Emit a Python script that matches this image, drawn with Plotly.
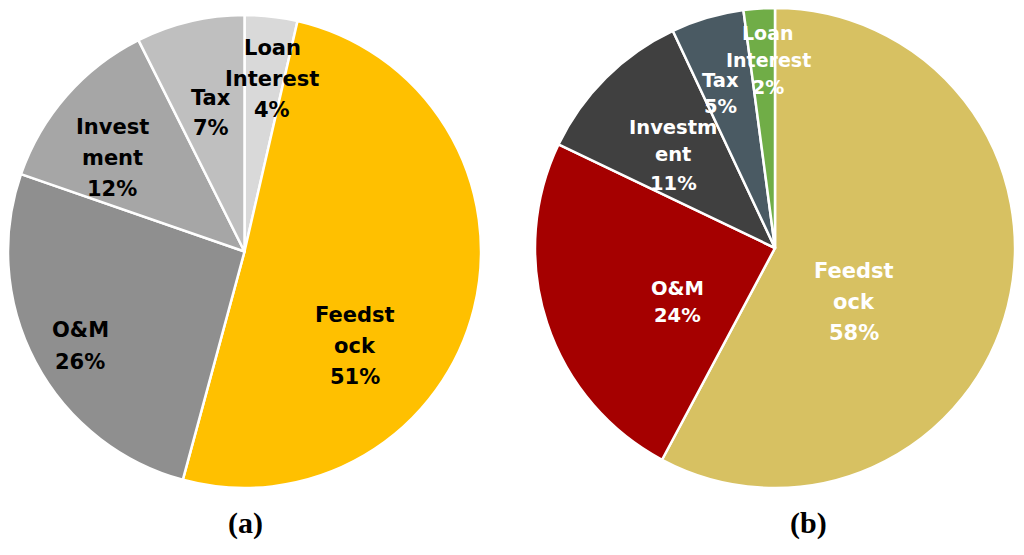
import plotly.graph_objects as go

W, H = 1024, 555
OFF = 8  # page body margin offset in the browser

# ---- data ----
labels_a = ["Loan Interest", "Feedstock", "O&M", "Investment", "Tax"]
values_a = [3.6, 50.6, 26.1, 12.3, 7.4]
colors_a = ["#D9D9D9", "#FFC000", "#8F8F8F", "#A6A6A6", "#BFBFBF"]
text_a = [["Loan", "Interest"], ["Feedst", "ock"], ["O&M"], ["Invest", "ment"], ["Tax"]]

labels_b = ["Feedstock", "O&M", "Investment", "Tax", "Loan Interest"]
values_b = [57.8, 24.3, 10.9, 4.9, 2.1]
colors_b = ["#D7C162", "#A50000", "#404040", "#4A5A63", "#70AD47"]
text_b = [["Feedst", "ock"], ["O&M"], ["Investm", "ent"], ["Tax"], ["Loan", "Interest"]]

panel_titles = ["(a)", "(b)"]

# label block anchor (pixel centre x, first-line y), line spacing, font size
pos_a = [(272, 48, 31, 21), (355, 315, 31, 21), (80, 330, 32, 21), (112, 127, 31, 21), (211, 98, 30, 21)]
pos_b = [(854, 271, 31, 21), (677, 288, 27, 19.5), (673, 127, 28, 19.5), (720, 80, 27, 19.5), (768, 33, 27, 19)]


def px(x):
    return max(0.0, min(1.0, (x - OFF) / W))


def py(y):
    return max(0.0, min(1.0, 1 - (y - OFF) / H))


fig = go.Figure()

fig.add_trace(go.Pie(
    labels=labels_a, values=values_a, sort=False, direction="clockwise", rotation=0,
    marker=dict(colors=colors_a, line=dict(color="white", width=2.5)),
    textinfo="none", hoverinfo="label+percent", showlegend=False,
    domain=dict(x=[px(8), px(481)], y=[py(488), py(15)]),
))
fig.add_trace(go.Pie(
    labels=labels_b, values=values_b, sort=False, direction="clockwise", rotation=0,
    marker=dict(colors=colors_b, line=dict(color="white", width=2.5)),
    textinfo="none", hoverinfo="label+percent", showlegend=False,
    domain=dict(x=[px(535), px(1015)], y=[py(488), py(8)]),
))

FONT = "DejaVu Sans"
annotations = []


def add_labels(texts, values, pos, color):
    total = sum(values)
    for lines, v, (cx, y0, dy, fs) in zip(texts, values, pos):
        all_lines = lines + [f"{round(100 * v / total)}%"]
        for i, ln in enumerate(all_lines):
            annotations.append(dict(
                x=px(cx), y=py(y0 + i * dy), xref="paper", yref="paper",
                text=f"<b>{ln}</b>", showarrow=False,
                xanchor="center", yanchor="middle",
                font=dict(family=FONT, size=fs, color=color),
            ))


add_labels(text_a, values_a, pos_a, "#000000")
add_labels(text_b, values_b, pos_b, "#FFFFFF")

for t, cx in zip(panel_titles, [245, 808]):
    annotations.append(dict(
        x=px(cx), y=py(523), xref="paper", yref="paper", text=f"<b>{t}</b>",
        showarrow=False, xanchor="center", yanchor="middle",
        font=dict(family="Liberation Serif", size=30, color="#000000"),
    ))

fig.update_layout(
    width=W, height=H, autosize=False,
    margin=dict(l=0, r=0, t=0, b=0),
    paper_bgcolor="white", plot_bgcolor="white",
    annotations=annotations,
)

fig.write_html("out.html")
